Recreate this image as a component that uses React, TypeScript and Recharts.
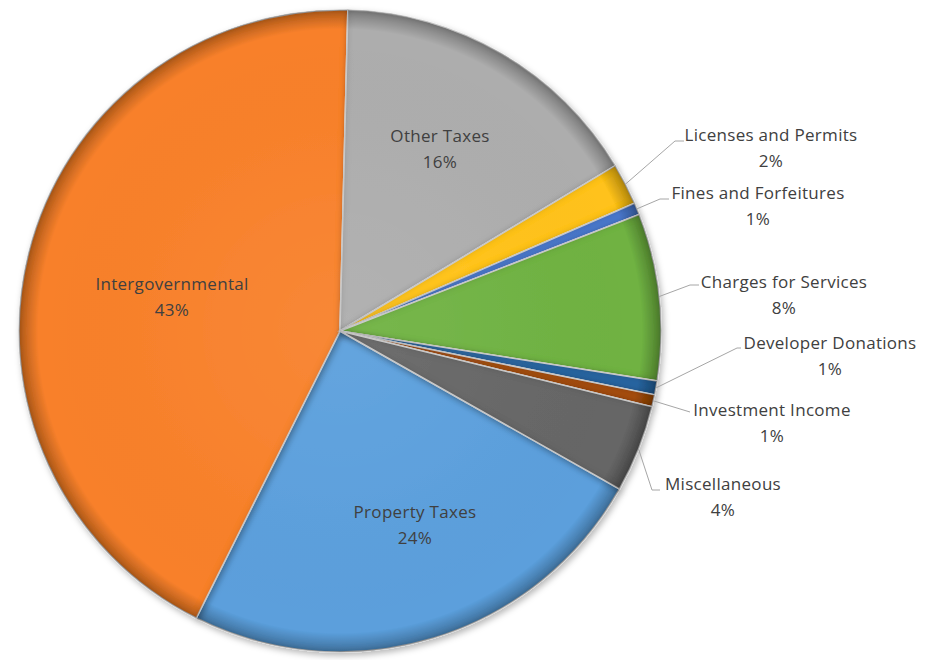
import React from 'react';
import { PieChart, Pie, Cell, Sector } from 'recharts';

// Revenue sources, in chart (clockwise) order
const categories = [
  'Property Taxes',
  'Intergovernmental',
  'Other Taxes',
  'Licenses and Permits',
  'Fines and Forfeitures',
  'Charges for Services',
  'Developer Donations',
  'Investment Income',
  'Miscellaneous',
];

// Share of total revenue (percent)
const shares = [24.2, 43.0, 16.0, 2.1, 0.6, 8.4, 0.7, 0.6, 4.4];

const sliceColors = [
  '#5B9FDC',
  '#F8802A',
  '#ADADAD',
  '#FFC21A',
  '#4A78CC',
  '#6FB242',
  '#2A65A0',
  '#A54E14',
  '#666666',
];

const data = categories.map((name, i) => ({ name, value: shares[i] }));

const PIE_CX = 340;
const PIE_CY = 331;
const PIE_R = 321;
const START = -29.48;

const TEXT_COLOR = '#404040';
const FONT = '"Open Sans", Lato, sans-serif';
const FONT_SIZE = 17;
const LETTER_SPACING = 0.3;
const LINE_GAP = 13;

// Label placement, relative to the pie centre.
// inside labels: text block centre; outside labels: elbow, line end and text block centre
type LabelLayout =
  | { kind: 'inside'; tx: number; ty: number }
  | { kind: 'outside'; ex: number; ey: number; lx: number; tx: number; ty: number };

const labelLayout: Record<string, LabelLayout> = {
  'Property Taxes': { kind: 'inside', tx: 75, ty: 193.5 },
  Intergovernmental: { kind: 'inside', tx: -168, ty: -35 },
  'Other Taxes': { kind: 'inside', tx: 100, ty: -182.5 },
  'Licenses and Permits': { kind: 'outside', ex: 335, ey: -190, lx: 344, tx: 431, ty: -183.5 },
  'Fines and Forfeitures': { kind: 'outside', ex: 320, ey: -132, lx: 329, tx: 418, ty: -126 },
  'Charges for Services': { kind: 'outside', ex: 350, ey: -46, lx: 359, tx: 444, ty: -36.5 },
  'Developer Donations': { kind: 'outside', ex: 397, ey: 17, lx: 401, tx: 490, ty: 24.5 },
  'Investment Income': { kind: 'outside', ex: 350, ey: 81, lx: 350, tx: 432, ty: 91 },
  Miscellaneous: { kind: 'outside', ex: 312, ey: 159, lx: 320, tx: 383, ty: 165.5 },
};

const RAD = Math.PI / 180;

const renderLabel = (props: any) => {
  const { cx, cy, midAngle, outerRadius, percent, name } = props;
  const layout = labelLayout[name];
  if (!layout) return null;
  const pct = `${Math.round(percent * 100)}%`;
  const tx = cx + layout.tx;
  const ty = cy + layout.ty;
  const text = (
    <text
      x={tx}
      y={ty}
      textAnchor="middle"
      fill={TEXT_COLOR}
      fontFamily={FONT}
      fontSize={FONT_SIZE}
      letterSpacing={LETTER_SPACING}
    >
      <tspan x={tx} y={ty - LINE_GAP} dominantBaseline="central">
        {name}
      </tspan>
      <tspan x={tx} y={ty + LINE_GAP} dominantBaseline="central">
        {pct}
      </tspan>
    </text>
  );
  if (layout.kind === 'inside') return <g>{text}</g>;
  const ax = cx + outerRadius * Math.cos(-midAngle * RAD);
  const ay = cy + outerRadius * Math.sin(-midAngle * RAD);
  const pts = `${ax},${ay} ${cx + layout.ex},${cy + layout.ey} ${cx + layout.lx},${cy + layout.ey}`;
  return (
    <g>
      <polyline points={pts} fill="none" stroke="#A6A6A6" strokeWidth={1} />
      {text}
    </g>
  );
};

const BevelSlice = (props: any) => {
  const { cx, cy, innerRadius, outerRadius, startAngle, endAngle, fill } = props;
  return (
    <g filter="url(#sliceBevel)">
      <Sector
        cx={cx}
        cy={cy}
        innerRadius={innerRadius}
        outerRadius={outerRadius}
        startAngle={startAngle}
        endAngle={endAngle}
        fill={fill}
        stroke="#D9D9D9"
        strokeWidth={1.5}
      />
      <Sector
        cx={cx}
        cy={cy}
        innerRadius={innerRadius}
        outerRadius={outerRadius}
        startAngle={startAngle}
        endAngle={endAngle}
        fill="url(#rimShade)"
        stroke="none"
      />
    </g>
  );
};

export default function App() {
  return (
    <div style={{ position: 'absolute', left: 0, top: 0 }}>
      <PieChart width={934} height={660} margin={{ top: 0, right: 0, bottom: 0, left: 0 }}>
        <defs>
          <radialGradient
            id="rimShade"
            gradientUnits="userSpaceOnUse"
            cx={PIE_CX}
            cy={PIE_CY}
            r={PIE_R}
          >
            <stop offset="0%" stopColor="#ffffff" stopOpacity={0.06} />
            <stop offset="50%" stopColor="#ffffff" stopOpacity={0.02} />
            <stop offset="94%" stopColor="#000000" stopOpacity={0} />
            <stop offset="100%" stopColor="#000000" stopOpacity={0.3} />
          </radialGradient>
          <filter id="sliceBevel" x="-20%" y="-20%" width="140%" height="140%">
            <feGaussianBlur in="SourceAlpha" stdDeviation="3.5" result="blur" />
            <feComposite in="SourceAlpha" in2="blur" operator="arithmetic" k2="1" k3="-1" result="edge" />
            <feFlood floodColor="#000000" floodOpacity="0.4" result="dark" />
            <feComposite in="dark" in2="edge" operator="in" result="innerShade" />
            <feOffset in="SourceAlpha" dx="2" dy="3" result="off" />
            <feGaussianBlur in="off" stdDeviation="3" result="offBlur" />
            <feFlood floodColor="#000000" floodOpacity="0.28" result="shadowColor" />
            <feComposite in="shadowColor" in2="offBlur" operator="in" result="drop" />
            <feMerge>
              <feMergeNode in="drop" />
              <feMergeNode in="SourceGraphic" />
              <feMergeNode in="innerShade" />
            </feMerge>
          </filter>
        </defs>
        <Pie
          data={data}
          dataKey="value"
          nameKey="name"
          cx={PIE_CX}
          cy={PIE_CY}
          innerRadius={0}
          outerRadius={PIE_R}
          startAngle={START}
          endAngle={START - 360}
          isAnimationActive={false}
          labelLine={false}
          label={renderLabel}
          shape={BevelSlice}
          stroke="#D9D9D9"
        >
          {data.map((d, i) => (
            <Cell key={d.name} fill={sliceColors[i]} />
          ))}
        </Pie>
      </PieChart>
    </div>
  );
}
